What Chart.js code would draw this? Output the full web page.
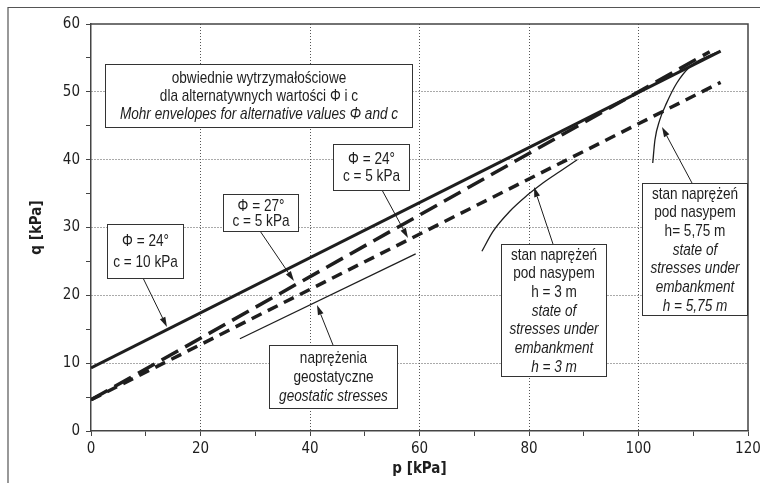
<!DOCTYPE html>
<html>
<head>
<meta charset="utf-8">
<script src="https://cdn.jsdelivr.net/npm/chart.js@4/dist/chart.umd.min.js"></script>
<style>
html,body{margin:0;padding:0;background:#fff;}
canvas{display:block;}
</style>
</head>
<body>
<canvas id="c" width="760" height="483"></canvas>
<script>
// ---- data ----
const xTickLabels = ['0', '20', '40', '60', '80', '100', '120'];
const yTickLabels = ['0', '10', '20', '30', '40', '50', '60'];

// Mohr envelope: Phi = 24°, c = 10 kPa (solid)
const env24c10P = [0, 115];
const env24c10Q = [9.3, 56.0];
// Mohr envelope: Phi = 27°, c = 5 kPa (long dash)
const env27c5P = [0, 113];
const env27c5Q = [4.6, 55.9];
// Mohr envelope: Phi = 24°, c = 5 kPa (short dash)
const env24c5P = [0, 115];
const env24c5Q = [4.6, 51.4];
// geostatic stresses (thin line)
const geoP = [27.2, 59.3];
const geoQ = [13.6, 26.1];
// stress state under embankment h = 3 m
const h3P = [71.4, 73.4, 76.5, 79.6, 82.6, 85.7, 88.8];
const h3Q = [26.5, 29.4, 32.4, 34.7, 36.6, 38.3, 40.0];
// stress state under embankment h = 5,75 m
const h575P = [102.6, 103.0, 103.9, 105.1, 107.0, 109.4, 112.5, 114.9];
const h575Q = [39.5, 42.9, 45.9, 48.3, 51.3, 53.7, 55.2, 56.0];

const FONT = '"DejaVu Sans Condensed", "Liberation Sans", sans-serif';
const BOXFONT = '"Liberation Sans", Arial, sans-serif';
const SQUEEZE = 0.8;
const INK = '#1e1e1e';

function pts(px, qy) { return px.map((p, i) => ({x: p, y: qy[i]})); }

// annotation boxes (data coordinates: p1,p2 / q top,q bottom)
const boxes = [
  {p1: 2.56, p2: 58.63, qt: 54.11, qb: 44.82, gap: 18,
   lines: [['obwiednie wytrzymałościowe', false], ['dla alternatywnych wartości Φ i c', false], ['Mohr envelopes for alternative values Φ and c', true]]},
  {p1: 44.2, p2: 58.08, qt: 42.31, qb: 35.53, gap: 17,
   lines: [['Φ = 24°', false], ['c = 5 kPa', false]]},
  {p1: 24.11, p2: 37.81, qt: 34.94, qb: 29.49, gap: 15,
   lines: [['Φ = 27°', false], ['c = 5 kPa', false]]},
  {p1: 2.92, p2: 16.80, qt: 30.52, qb: 22.56, gap: 21,
   lines: [['Φ = 24°', false], ['c = 10 kPa', false]]},
  {p1: 32.51, p2: 55.89, qt: 12.68, qb: 3.39, gap: 19,
   lines: [['naprężenia', false], ['geostatyczne', false], ['geostatic stresses', true]]},
  {p1: 74.89, p2: 94.06, qt: 27.57, qb: 8.11, gap: 18.7,
   lines: [['stan naprężeń', false], ['pod nasypem', false], ['h = 3 m', false], ['state of', true], ['stresses under', true], ['embankment', true], ['h = 3 m', true]]},
  {p1: 100.64, p2: 119.82, qt: 36.56, qb: 17.10, gap: 18.7,
   lines: [['stan naprężeń', false], ['pod nasypem', false], ['h= 5,75 m', false], ['state of', true], ['stresses under', true], ['embankment', true], ['h = 5,75 m', true]]}
];
// arrows: from (p,q) to tip (p,q)
const arrows = [
  [53.15, 35.53, 57.9, 28.45],
  [30.87, 29.49, 37.08, 22.11],
  [9.50, 22.56, 13.88, 15.33],
  [44.2, 12.68, 41.28, 18.58],
  [84.38, 27.57, 80.91, 35.97],
  [109.77, 36.56, 104.29, 44.82]
];

const framePlugin = {
  id: 'frame',
  beforeDraw(chart) {
    const ctx = chart.ctx;
    ctx.save();
    ctx.strokeStyle = '#555';
    ctx.lineWidth = 1.2;
    ctx.beginPath();
    ctx.moveTo(8, 483);
    ctx.lineTo(8, 7.5);
    ctx.lineTo(760, 7.5);
    ctx.stroke();
    ctx.restore();
  },
  afterDatasetsDraw(chart) {
    const ctx = chart.ctx;
    const a = chart.chartArea;
    const xs = chart.scales.x, ys = chart.scales.y;
    ctx.save();
    ctx.strokeStyle = '#444';
    ctx.lineWidth = 1.5;
    ctx.beginPath();
    ctx.moveTo(a.left, a.top);
    ctx.lineTo(a.right, a.top);
    ctx.lineTo(a.right, a.bottom);
    ctx.stroke();

    // arrows
    ctx.strokeStyle = INK;
    ctx.fillStyle = INK;
    ctx.lineWidth = 1;
    arrows.forEach(([p1, q1, p2, q2]) => {
      const x1 = xs.getPixelForValue(p1), y1 = ys.getPixelForValue(q1);
      const x2 = xs.getPixelForValue(p2), y2 = ys.getPixelForValue(q2);
      const ang = Math.atan2(y2 - y1, x2 - x1);
      const L = 10, W = 3;
      const bx = x2 - L * Math.cos(ang), by = y2 - L * Math.sin(ang);
      ctx.beginPath();
      ctx.moveTo(x1, y1);
      ctx.lineTo(bx, by);
      ctx.stroke();
      ctx.beginPath();
      ctx.moveTo(x2, y2);
      ctx.lineTo(bx + W * Math.sin(ang), by - W * Math.cos(ang));
      ctx.lineTo(bx - W * Math.sin(ang), by + W * Math.cos(ang));
      ctx.closePath();
      ctx.fill();
    });

    // boxes
    boxes.forEach(b => {
      const x1 = Math.round(xs.getPixelForValue(b.p1)) + 0.5;
      const x2 = Math.round(xs.getPixelForValue(b.p2)) + 0.5;
      const y1 = Math.round(ys.getPixelForValue(b.qt)) + 0.5;
      const y2 = Math.round(ys.getPixelForValue(b.qb)) + 0.5;
      ctx.fillStyle = '#fff';
      ctx.fillRect(x1, y1, x2 - x1, y2 - y1);
      ctx.strokeStyle = '#333';
      ctx.lineWidth = 1;
      ctx.strokeRect(x1, y1, x2 - x1, y2 - y1);
      ctx.fillStyle = INK;
      ctx.textAlign = 'center';
      ctx.textBaseline = 'middle';
      const cx = (x1 + x2) / 2, cy = (y1 + y2) / 2;
      const n = b.lines.length;
      b.lines.forEach(([t, it], i) => {
        ctx.save();
        ctx.font = (it ? 'italic ' : '') + '17px ' + BOXFONT;
        ctx.translate(cx, cy + (i - (n - 1) / 2) * b.gap + 0.5);
        ctx.scale(SQUEEZE, 1);
        ctx.fillText(t, 0, 0);
        ctx.restore();
      });
    });
    ctx.restore();
  }
};

function fixAxis(w, h) {
  return function (scale) {
    if (w !== null) scale.width = w;
    if (h !== null) scale.height = h;
    scale.paddingLeft = 0; scale.paddingRight = 0;
    scale.paddingTop = 0; scale.paddingBottom = 0;
  };
}

new Chart(document.getElementById('c'), {
  type: 'scatter',
  data: {
    datasets: [
      {data: pts(env24c10P, env24c10Q), showLine: true, borderColor: INK, borderWidth: 3, pointRadius: 0, borderCapStyle: 'butt'},
      {data: pts(env27c5P, env27c5Q), showLine: true, borderColor: INK, borderWidth: 3.5, borderDash: [19, 8], pointRadius: 0, borderCapStyle: 'butt'},
      {data: pts(env24c5P, env24c5Q), showLine: true, borderColor: INK, borderWidth: 3.5, borderDash: [11, 7], pointRadius: 0, borderCapStyle: 'butt'},
      {data: pts(geoP, geoQ), showLine: true, borderColor: INK, borderWidth: 1.3, pointRadius: 0},
      {data: pts(h3P, h3Q), showLine: true, borderColor: INK, borderWidth: 1.3, pointRadius: 0, cubicInterpolationMode: 'monotone'},
      {data: pts(h575P, h575Q), showLine: true, borderColor: INK, borderWidth: 1.3, pointRadius: 0, cubicInterpolationMode: 'monotone'}
    ]
  },
  options: {
    responsive: false,
    animation: false,
    events: [],
    layout: {padding: {left: 0, right: 12, top: 24, bottom: 0}},
    plugins: {legend: {display: false}, tooltip: {enabled: false}},
    scales: {
      x: {
        type: 'linear', min: 0, max: 120,
        afterFit: fixAxis(null, 52),
        ticks: {
          stepSize: 10, autoSkip: false, maxRotation: 0, padding: 4,
          color: INK, font: {family: FONT, size: 15},
          callback: (v) => (v % 20 === 0 ? xTickLabels[v / 20] : '')
        },
        grid: {
          color: (c) => (c.tick && c.tick.value % 20 === 0 && c.tick.value > 0 && c.tick.value < 120 ? '#555' : 'rgba(0,0,0,0)'),
          lineWidth: 1, tickLength: 5, tickColor: '#444', tickWidth: 1
        },
        border: {color: '#444', width: 1.5, dash: [1, 2]},
        title: {display: true, text: 'p [kPa]', color: INK, font: {family: FONT, size: 15, weight: 'bold'}, padding: {top: 0, bottom: 5}}
      },
      y: {
        type: 'linear', min: 0, max: 60,
        afterFit: fixAxis(91, null),
        ticks: {
          stepSize: 5, autoSkip: false, padding: 6,
          color: INK, font: {family: FONT, size: 15},
          callback: (v) => (v % 10 === 0 ? yTickLabels[v / 10] : '')
        },
        grid: {
          color: (c) => (c.tick && c.tick.value % 10 === 0 && c.tick.value > 0 && c.tick.value < 60 ? '#555' : 'rgba(0,0,0,0)'),
          lineWidth: 1, tickLength: 5, tickColor: '#444', tickWidth: 1
        },
        border: {color: '#444', width: 1.5, dash: [1, 2]},
        title: {display: true, text: 'q [kPa]', color: INK, font: {family: FONT, size: 15, weight: 'bold'}, padding: {top: 28, bottom: 0}}
      }
    }
  },
  plugins: [framePlugin]
});
</script>
</body>
</html>
